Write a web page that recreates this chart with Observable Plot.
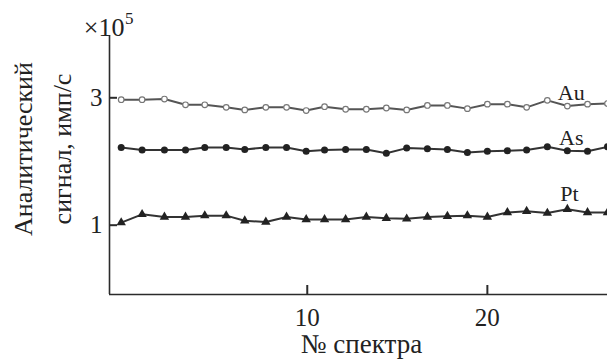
<!DOCTYPE html>
<html><head><meta charset="utf-8">
<script src="https://cdn.jsdelivr.net/npm/d3@7"></script>
<script src="https://cdn.jsdelivr.net/npm/@observablehq/plot@0.6"></script>
<style>html,body{margin:0;padding:0;background:#fff}</style>
</head><body><div id="chart"></div>
<script>
// № спектра (positions along the x axis)
const spectrum = [-0.33, 0.83, 2.07, 3.24, 4.31, 5.5, 6.53, 7.7, 8.85, 9.94, 10.96, 12.13, 13.28, 14.39, 15.52, 16.67, 17.78, 18.89, 20.0, 21.11, 22.18, 23.33, 24.44, 25.56, 26.67];
// Analytical signal, ×10^5 counts/s
const au = [2.97, 2.97, 2.98, 2.89, 2.89, 2.85, 2.81, 2.85, 2.85, 2.80, 2.86, 2.82, 2.82, 2.84, 2.81, 2.88, 2.88, 2.83, 2.90, 2.90, 2.85, 2.96, 2.87, 2.90, 2.91];
const as = [2.22, 2.18, 2.18, 2.18, 2.22, 2.22, 2.19, 2.22, 2.22, 2.16, 2.18, 2.19, 2.19, 2.13, 2.21, 2.20, 2.19, 2.14, 2.16, 2.17, 2.18, 2.23, 2.17, 2.16, 2.23];
const pt = [1.04, 1.17, 1.13, 1.13, 1.15, 1.15, 1.07, 1.05, 1.13, 1.09, 1.09, 1.09, 1.13, 1.11, 1.10, 1.13, 1.14, 1.15, 1.13, 1.20, 1.22, 1.19, 1.25, 1.20, 1.20];

const xTicks = [10, 20];
const yTicks = [1, 3];
const xDomain = [-0.98, 26.67];
const yDomain = [-0.088, 3.978];

const seriesNames = ["Au", "As", "Pt"];
const labelX = [24.66, 24.66, 24.55];
const labelY = [3.07, 2.37, 1.49];

const rows = spectrum.map((x, i) => ({x, au: au[i], as: as[i], pt: pt[i]}));
const labels = seriesNames.map((name, i) => ({name, x: labelX[i], y: labelY[i]}));

const ink = "#2b2b2b";
const serif = "Liberation Serif, Times New Roman, serif";
const chart = Plot.plot({
  width: 607,
  height: 359,
  marginLeft: 109,
  marginRight: 0,
  marginTop: 35,
  marginBottom: 65,
  style: {fontFamily: serif, fontSize: "24px", color: ink, background: "#fff"},
  x: {domain: xDomain, label: null},
  y: {domain: yDomain, label: null},
  marks: [
    Plot.ruleX([xDomain[0]], {stroke: ink, strokeWidth: 1.6}),
    Plot.ruleY([yDomain[0]], {stroke: ink, strokeWidth: 1.6}),
    Plot.axisX(xTicks, {tickSize: -9, tickFormat: () => "", stroke: ink, strokeWidth: 2, label: null}),
    Plot.axisX(xTicks, {tickSize: 0, tickPadding: 14, tickFormat: d => String(d), fontSize: 25, fontFamily: serif, fill: "#222", label: null}),
    Plot.axisY(yTicks, {tickSize: -8, tickFormat: () => "", stroke: ink, strokeWidth: 2, label: null}),
    Plot.axisY(yTicks, {tickSize: 0, tickPadding: 7, tickFormat: d => String(d), fontSize: 25, fontFamily: serif, fill: "#222", label: null}),
    Plot.line(rows, {x: "x", y: "au", stroke: "#555", strokeWidth: 2}),
    Plot.line(rows, {x: "x", y: "as", stroke: "#333", strokeWidth: 2}),
    Plot.line(rows, {x: "x", y: "pt", stroke: "#333", strokeWidth: 2}),
    Plot.dot(rows, {x: "x", y: "au", r: 2.8, fill: "#fff", stroke: "#777", strokeWidth: 1.2}),
    Plot.dot(rows, {x: "x", y: "as", r: 3.5, fill: "#222", stroke: "none"}),
    Plot.dot(rows, {x: "x", y: "pt", symbol: "triangle", r: 3.5, fill: "#222", stroke: "none"}),
    Plot.text(labels, {x: "x", y: "y", text: "name", fontSize: 22, fontFamily: serif, fill: "#222", lineAnchor: "middle"}),
    Plot.text(["№ спектра"], {frameAnchor: "bottom", textAnchor: "middle", dx: 3, dy: 58, lineAnchor: "bottom", fontSize: 27, fontFamily: serif, fill: "#222"}),
    Plot.text(["Аналитический\nсигнал, имп/с"], {frameAnchor: "left", textAnchor: "middle", rotate: -90, dx: -70, dy: -16, lineAnchor: "middle", lineHeight: 1.5, fontSize: 26, fontFamily: serif, fill: "#222"}),
    Plot.text(["×10"], {frameAnchor: "top-left", textAnchor: "end", dx: 15, dy: 0, lineAnchor: "bottom", fontSize: 26, fontFamily: serif, fill: "#222"}),
    Plot.text(["5"], {frameAnchor: "top-left", textAnchor: "start", dx: 15.5, dy: -12, lineAnchor: "bottom", fontSize: 17, fontFamily: serif, fill: "#222"})
  ]
});
document.getElementById("chart").appendChild(chart);
</script>
</body></html>
